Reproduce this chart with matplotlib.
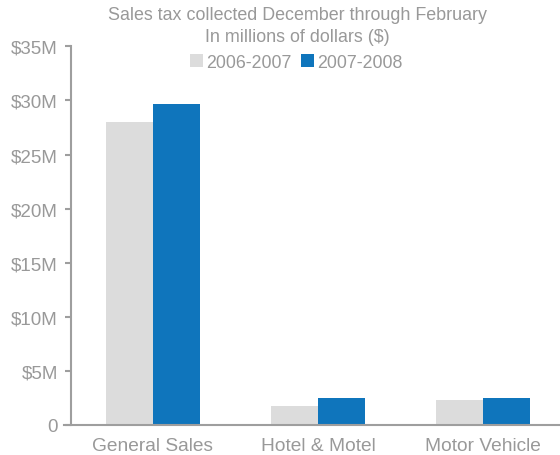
import matplotlib
matplotlib.use("Agg")
import matplotlib.pyplot as plt
import numpy as np
from matplotlib.patches import Patch
from matplotlib.lines import Line2D

categories = ["General Sales", "Hotel & Motel", "Motor Vehicle"]
series_names = ["2006-2007", "2007-2008"]
values_2006 = [28.0, 1.8, 2.3]
values_2007 = [29.7, 2.5, 2.5]
yticks = [0, 5, 10, 15, 20, 25, 30, 35]
ytick_labels = ["0", "$5M", "$10M", "$15M", "$20M", "$25M", "$30M", "$35M"]
title_lines = ["Sales tax collected December through February", "In millions of dollars ($)"]

colors = ["#dcdcdc", "#0f75bc"]
txt = "#999999"
axc = "#9e9e9e"

plt.rcParams['font.family'] = ['Liberation Sans', 'DejaVu Sans']

W, H = 560, 456
fig = plt.figure(figsize=(W/100, H/100), dpi=100)
ax = fig.add_axes([71/W, (H-426)/H, (W-71)/W, (426-47.3)/H])

x = np.arange(len(categories))
bw = 0.285
ax.bar(x - bw/2, values_2006, width=bw, color=colors[0], linewidth=0)
ax.bar(x + bw/2, values_2007, width=bw, color=colors[1], linewidth=0)

ax.set_xlim(-0.497, 2.467)
ax.set_ylim(0, 35)
ax.set_yticks(yticks)
ax.set_yticklabels(ytick_labels)
ax.set_xticks(x)
ax.set_xticklabels(categories)

for s in ["top", "right"]:
    ax.spines[s].set_visible(False)
ax.spines["left"].set_color(axc)
ax.spines["left"].set_linewidth(1.5)
ax.spines["bottom"].set_visible(False)
ax.add_line(Line2D([-7/(W-71), 1], [0, 0], transform=ax.transAxes, color=axc,
                   linewidth=1.5, clip_on=False))

ax.tick_params(axis="y", colors=axc, length=4.5, width=1.5, pad=5, labelsize=13.5, labelcolor=txt)
ax.tick_params(axis="x", length=0, pad=9, labelsize=13.8, labelcolor=txt)

fig.text(297/W, 1-15.5/H, title_lines[0], ha="center", va="center", color=txt, fontsize=12.9)
fig.text(297/W, 1-37.5/H, title_lines[1], ha="center", va="center", color=txt, fontsize=12.9)

handles = [Patch(facecolor=colors[0], linewidth=0), Patch(facecolor=colors[1], linewidth=0)]
leg = fig.legend(handles, series_names, loc="center", bbox_to_anchor=(296/W, 1-63.5/H), ncol=2,
                 frameon=False, handlelength=0.73, handleheight=0.73, handletextpad=0.17,
                 columnspacing=0.56, fontsize=12.8, borderpad=0, borderaxespad=0)
for t in leg.get_texts():
    t.set_color(txt)

fig.savefig("out.png", dpi=100)
